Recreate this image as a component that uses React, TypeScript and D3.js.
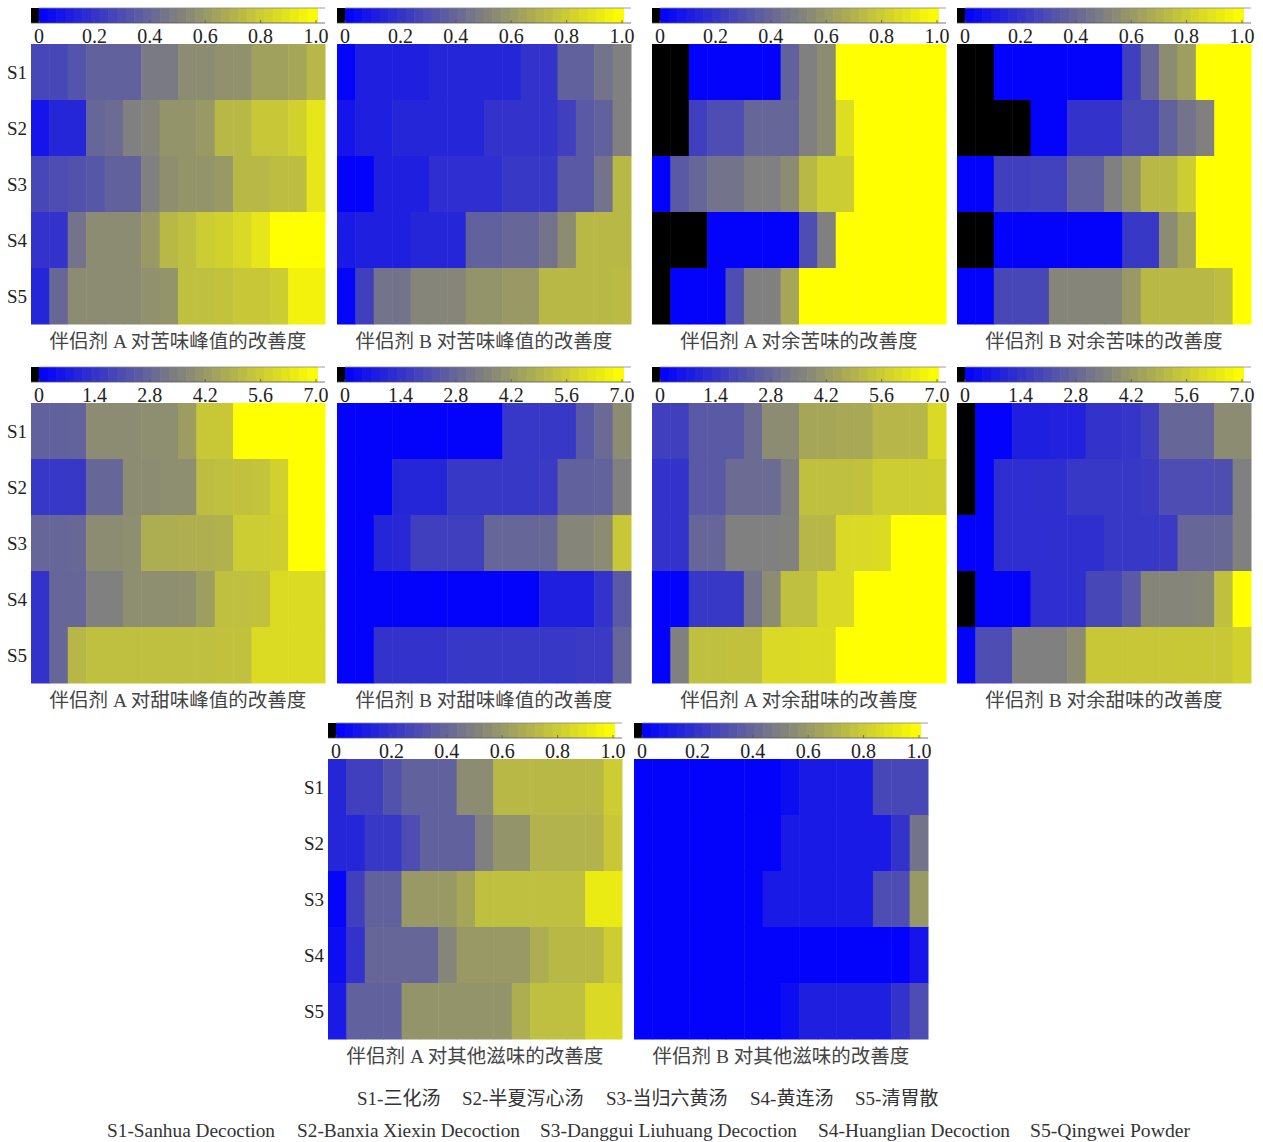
import * as d3 from "d3";

// 5 decoctions (rows) x 16 steps (columns) per panel
const rowLabels = ["S1", "S2", "S3", "S4", "S5"];
const columns = d3.range(16);

const unitTicks = [0, 0.2, 0.4, 0.6, 0.8, 1.0];
const sweetTicks = [0, 1.4, 2.8, 4.2, 5.6, 7.0];

const titles = [
  "伴侣剂 A 对苦味峰值的改善度",
  "伴侣剂 B 对苦味峰值的改善度",
  "伴侣剂 A 对余苦味的改善度",
  "伴侣剂 B 对余苦味的改善度",
  "伴侣剂 A 对甜味峰值的改善度",
  "伴侣剂 B 对甜味峰值的改善度",
  "伴侣剂 A 对余甜味的改善度",
  "伴侣剂 B 对余甜味的改善度",
  "伴侣剂 A 对其他滋味的改善度",
  "伴侣剂 B 对其他滋味的改善度",
];

// 0 = no improvement (drawn black)
const bitterPeakA = [
  [0.28, 0.28, 0.33, 0.38, 0.38, 0.38, 0.48, 0.48, 0.55, 0.55, 0.57, 0.57, 0.63, 0.63, 0.65, 0.72],
  [0.08, 0.15, 0.15, 0.4, 0.42, 0.5, 0.52, 0.58, 0.58, 0.6, 0.72, 0.72, 0.78, 0.78, 0.82, 0.9],
  [0.28, 0.3, 0.32, 0.34, 0.38, 0.38, 0.5, 0.56, 0.58, 0.58, 0.6, 0.72, 0.72, 0.74, 0.74, 0.9],
  [0.2, 0.2, 0.45, 0.55, 0.55, 0.55, 0.6, 0.72, 0.75, 0.8, 0.82, 0.85, 0.9, 1, 1, 1],
  [0.15, 0.4, 0.55, 0.55, 0.55, 0.55, 0.57, 0.58, 0.75, 0.75, 0.76, 0.78, 0.78, 0.8, 0.95, 0.95],
];
const bitterPeakB = [
  [0.02, 0.12, 0.12, 0.12, 0.12, 0.15, 0.15, 0.15, 0.15, 0.15, 0.2, 0.2, 0.38, 0.38, 0.45, 0.5],
  [0.08, 0.12, 0.12, 0.15, 0.15, 0.15, 0.15, 0.15, 0.2, 0.2, 0.2, 0.2, 0.25, 0.35, 0.38, 0.5],
  [0.01, 0.01, 0.12, 0.12, 0.12, 0.18, 0.18, 0.18, 0.18, 0.22, 0.22, 0.22, 0.35, 0.35, 0.45, 0.72],
  [0.1, 0.12, 0.12, 0.12, 0.15, 0.15, 0.15, 0.38, 0.38, 0.4, 0.4, 0.45, 0.55, 0.72, 0.72, 0.72],
  [0.02, 0.25, 0.45, 0.45, 0.52, 0.52, 0.52, 0.58, 0.58, 0.6, 0.6, 0.72, 0.72, 0.72, 0.72, 0.73],
];
const bitterResA = [
  [0, 0, 0.01, 0.01, 0.01, 0.01, 0.01, 0.38, 0.5, 0.55, 1, 1, 1, 1, 1, 1],
  [0, 0, 0.25, 0.3, 0.3, 0.4, 0.4, 0.4, 0.5, 0.55, 0.87, 1, 1, 1, 1, 1],
  [0.01, 0.35, 0.4, 0.45, 0.45, 0.5, 0.5, 0.55, 0.72, 0.8, 0.8, 1, 1, 1, 1, 1],
  [0, 0, 0, 0.01, 0.01, 0.01, 0.01, 0.01, 0.3, 0.5, 1, 1, 1, 1, 1, 1],
  [0, 0.01, 0.01, 0.01, 0.3, 0.5, 0.5, 0.65, 1, 1, 1, 1, 1, 1, 1, 1],
];
const bitterResB = [
  [0, 0, 0.01, 0.01, 0.01, 0.01, 0.01, 0.01, 0.01, 0.25, 0.4, 0.55, 0.62, 1, 1, 1],
  [0, 0, 0, 0, 0.01, 0.01, 0.2, 0.2, 0.2, 0.28, 0.28, 0.38, 0.45, 0.5, 1, 1],
  [0.01, 0.01, 0.25, 0.25, 0.26, 0.26, 0.38, 0.38, 0.5, 0.58, 0.72, 0.72, 0.8, 1, 1, 1],
  [0, 0, 0.01, 0.01, 0.01, 0.01, 0.01, 0.01, 0.01, 0.22, 0.22, 0.55, 0.65, 1, 1, 1],
  [0.01, 0.01, 0.28, 0.28, 0.28, 0.52, 0.52, 0.52, 0.52, 0.6, 0.72, 0.72, 0.72, 0.72, 0.74, 1],
];
const sweetPeakA = [
  [2.66, 2.66, 2.7, 3.85, 3.85, 3.85, 3.9, 3.9, 4.3, 5.5, 5.5, 7, 7, 7, 7, 7],
  [1.5, 1.5, 1.55, 2.8, 2.8, 3.85, 3.85, 3.9, 3.9, 5.2, 5.25, 5.3, 5.35, 5.7, 7, 7],
  [2.8, 2.8, 2.85, 3.85, 3.85, 3.9, 4.75, 4.75, 4.8, 4.8, 4.85, 5.6, 5.6, 5.65, 7, 7],
  [1.4, 2.8, 2.8, 3.5, 3.5, 3.9, 3.9, 3.9, 3.95, 4.35, 5.25, 5.25, 5.3, 6, 6, 6],
  [1.4, 2.8, 5, 5.25, 5.25, 5.25, 5.25, 5.25, 5.25, 5.25, 5.3, 5.3, 6, 6, 6, 6],
];
const sweetPeakB = [
  [0.07, 0.07, 0.07, 0.07, 0.07, 0.07, 0.07, 0.07, 0.07, 1.5, 1.5, 1.55, 1.55, 2.45, 2.9, 3.85],
  [0.07, 0.07, 0.07, 1.05, 1.05, 1.05, 1.55, 1.55, 1.55, 1.55, 1.55, 1.6, 2.65, 2.65, 2.7, 3.5],
  [0.07, 0.07, 1.05, 1.1, 1.75, 1.75, 1.75, 1.75, 2.8, 2.8, 2.8, 2.85, 3.65, 3.65, 3.85, 5.45],
  [0.07, 0.07, 0.07, 0.07, 0.07, 0.07, 0.07, 0.07, 0.07, 0.07, 0.07, 0.85, 0.85, 0.85, 1.4, 2.45],
  [0.07, 0.07, 1.4, 1.4, 1.4, 1.4, 1.5, 1.55, 1.55, 1.55, 1.55, 1.55, 1.55, 1.6, 1.6, 2.8],
];
const sweetResA = [
  [1.75, 1.75, 2.45, 2.45, 2.45, 2.95, 3.85, 3.85, 4.55, 4.55, 4.6, 4.6, 5, 5, 5, 5.95],
  [1.4, 1.4, 2.45, 2.45, 2.95, 2.95, 2.95, 3.5, 5.25, 5.25, 5.25, 5.3, 5.6, 5.6, 5.6, 5.65],
  [1.4, 1.4, 2.8, 2.8, 3.5, 3.5, 3.5, 3.55, 5, 5, 5.95, 5.95, 6, 7, 7, 7],
  [0.07, 0.07, 1.55, 1.55, 1.55, 3.15, 3.85, 5.25, 5.25, 5.95, 5.95, 7, 7, 7, 7, 7],
  [0.07, 3.5, 5.25, 5.25, 5.3, 5.3, 5.95, 5.95, 6, 6, 7, 7, 7, 7, 7, 7],
];
const sweetResB = [
  [0, 0.07, 0.07, 0.85, 0.85, 0.9, 0.9, 1.4, 1.4, 1.45, 1.75, 2.8, 2.8, 2.8, 3.85, 3.85],
  [0, 0.07, 1.25, 1.25, 1.3, 1.3, 1.55, 1.55, 1.55, 1.55, 1.6, 2.1, 2.1, 2.1, 2.15, 3.5],
  [0.07, 0.07, 1.25, 1.25, 1.25, 1.3, 1.3, 1.3, 1.55, 1.55, 1.55, 1.6, 2.8, 2.8, 2.85, 3.5],
  [0, 0.07, 0.07, 0.07, 1.25, 1.25, 1.3, 1.95, 1.95, 2.45, 3.65, 3.65, 3.65, 3.7, 5.25, 7],
  [0.07, 2.1, 2.1, 3.5, 3.5, 3.5, 3.85, 5.45, 5.45, 5.45, 5.45, 5.45, 5.5, 5.5, 5.5, 5.75],
];
const otherA = [
  [0.15, 0.25, 0.25, 0.32, 0.38, 0.38, 0.38, 0.55, 0.55, 0.72, 0.72, 0.72, 0.72, 0.72, 0.72, 0.8],
  [0.15, 0.15, 0.22, 0.22, 0.3, 0.38, 0.38, 0.38, 0.5, 0.58, 0.58, 0.7, 0.7, 0.7, 0.7, 0.78],
  [0.02, 0.25, 0.38, 0.38, 0.6, 0.6, 0.6, 0.65, 0.75, 0.75, 0.75, 0.75, 0.75, 0.75, 0.92, 0.92],
  [0.05, 0.2, 0.4, 0.4, 0.4, 0.4, 0.52, 0.6, 0.6, 0.6, 0.6, 0.68, 0.72, 0.72, 0.72, 0.8],
  [0.1, 0.38, 0.38, 0.38, 0.58, 0.58, 0.58, 0.58, 0.58, 0.58, 0.68, 0.75, 0.75, 0.75, 0.85, 0.85],
];
const otherB = [
  [0.01, 0.01, 0.01, 0.01, 0.01, 0.01, 0.01, 0.01, 0.05, 0.1, 0.1, 0.1, 0.1, 0.28, 0.28, 0.28],
  [0.01, 0.01, 0.01, 0.01, 0.01, 0.01, 0.01, 0.01, 0.1, 0.1, 0.1, 0.1, 0.1, 0.1, 0.2, 0.45],
  [0.01, 0.01, 0.01, 0.01, 0.01, 0.01, 0.01, 0.1, 0.1, 0.1, 0.1, 0.1, 0.1, 0.3, 0.3, 0.6],
  [0.01, 0.01, 0.01, 0.01, 0.01, 0.01, 0.01, 0.01, 0.01, 0.01, 0.01, 0.01, 0.01, 0.01, 0.01, 0.08],
  [0.01, 0.01, 0.01, 0.01, 0.01, 0.01, 0.01, 0.01, 0.05, 0.12, 0.12, 0.12, 0.12, 0.12, 0.2, 0.3],
];

const legendCN = ["S1-三化汤", "S2-半夏泻心汤", "S3-当归六黄汤", "S4-黄连汤", "S5-清胃散"];
const legendEN = [
  "S1-Sanhua Decoction",
  "S2-Banxia Xiexin Decoction",
  "S3-Danggui Liuhuang Decoction",
  "S4-Huanglian Decoction",
  "S5-Qingwei Powder",
];

const panels = [
  { data: bitterPeakA, ticks: unitTicks, x: 31, y: 8, labels: true },
  { data: bitterPeakB, ticks: unitTicks, x: 337, y: 8 },
  { data: bitterResA, ticks: unitTicks, x: 652, y: 8 },
  { data: bitterResB, ticks: unitTicks, x: 957, y: 8 },
  { data: sweetPeakA, ticks: sweetTicks, x: 31, y: 367, labels: true },
  { data: sweetPeakB, ticks: sweetTicks, x: 337, y: 367 },
  { data: sweetResA, ticks: sweetTicks, x: 652, y: 367 },
  { data: sweetResB, ticks: sweetTicks, x: 957, y: 367 },
  { data: otherA, ticks: unitTicks, x: 328, y: 723, labels: true },
  { data: otherB, ticks: unitTicks, x: 634, y: 723 },
];

const size = { w: 294, h: 280, bar: 15, gap: 36 };
const serif = "'Liberation Serif', 'Times New Roman', serif";
const cjk = "'Liberation Serif', 'Noto Sans CJK SC', serif";
const blueYellow = d3.interpolateRgb("#0000ff", "#ffff00");

function Panel({ cfg, title }) {
  const max = cfg.ticks[cfg.ticks.length - 1];
  const color = (v) => (v <= 0 ? "#000" : blueYellow(v / max));
  const x = d3.scaleBand(columns, [0, size.w]);
  const y = d3.scaleBand(rowLabels, [size.gap, size.gap + size.h]);
  const bar = d3.scaleLinear([0, max], [8, 285]);
  const steps = d3.range(32).map((i) => (i * max) / 32);
  const stepW = bar(max / 32) - bar(0);

  return (
    <g transform={`translate(${cfg.x}, ${cfg.y})`}>
      <rect x={0} y={0} width={bar(0)} height={size.bar} fill="#000" />
      {steps.map((s, i) => (
        <rect
          key={i}
          x={bar(s)}
          y={0}
          width={stepW + (i === steps.length - 1 ? 2 : 0.6)}
          height={size.bar}
          fill={color(s + max / 64)}
        />
      ))}
      <line x1={bar(0)} x2={size.w} y1={0} y2={0} stroke="#888" strokeWidth={0.8} />
      <line x1={0} x2={size.w} y1={size.bar} y2={size.bar} stroke="#555" strokeWidth={0.8} />
      {cfg.ticks.map((t) => (
        <g key={t}>
          <line x1={bar(t)} x2={bar(t)} y1={size.bar} y2={size.bar - 3} stroke="#555" strokeWidth={0.8} />
          <text
            x={bar(t)}
            y={size.gap - 1}
            textAnchor="middle"
            fontFamily={serif}
            fontSize={20}
            fill="#222"
          >
            {t === 0 ? "0" : t.toFixed(1)}
          </text>
        </g>
      ))}
      {cfg.data.map((row, r) =>
        row.map((v, c) => (
          <rect
            key={`${r}-${c}`}
            x={x(c)}
            y={y(rowLabels[r])}
            width={x.bandwidth() + 0.5}
            height={y.bandwidth() + 0.5}
            fill={color(v)}
          />
        ))
      )}
      {cfg.labels &&
        rowLabels.map((l) => (
          <text
            key={l}
            x={-4}
            y={y(l) + y.bandwidth() / 2}
            dy="0.35em"
            textAnchor="end"
            fontFamily={serif}
            fontSize={19}
            fill="#222"
          >
            {l}
          </text>
        ))}
      <text
        x={size.w / 2}
        y={size.gap + size.h + 24}
        textAnchor="middle"
        fontFamily={cjk}
        fontSize={19.5}
        fill="#444"
      >
        {title}
      </text>
    </g>
  );
}

export default function App() {
  const cnX = [357, 462, 606, 750, 855];
  const enX = [107, 297, 540, 818, 1030];
  const enW = [168, 223, 257, 192, 160];
  return (
    <div style={{ position: "absolute", left: 0, top: 0 }}>
      <svg width={1263} height={1142} viewBox="0 0 1263 1142" style={{ display: "block", background: "#fff" }}>
        {panels.map((p, i) => (
          <Panel key={i} cfg={p} title={titles[i]} />
        ))}
        {legendCN.map((t, i) => (
          <text key={t} x={cnX[i]} y={1105} fontFamily={cjk} fontSize={19} fill="#333">
            {t}
          </text>
        ))}
        {legendEN.map((t, i) => (
          <text
            key={t}
            x={enX[i]}
            y={1137}
            fontFamily={serif}
            fontSize={18}
            fill="#333"
            textLength={enW[i]}
            lengthAdjust="spacingAndGlyphs"
          >
            {t}
          </text>
        ))}
      </svg>
    </div>
  );
}
